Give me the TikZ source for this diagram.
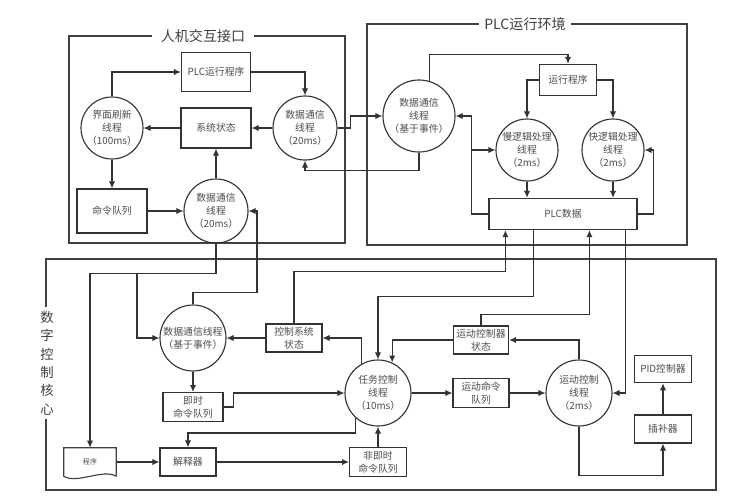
\documentclass[tikz,border=0pt]{standalone}
\usepackage{fontspec}
\setmainfont{Noto Sans CJK SC}
\usetikzlibrary{arrows.meta,positioning}

\begin{document}
\begin{tikzpicture}
[x=0.025cm, y=-0.025cm, font=\fontsize{7}{9.2}\selectfont,
% STYLES
every node/.style={text=black!70},
% The thread style is used to draw the periodic or event driven threads
thread/.style={circle, draw=black!80, line width=0.8pt, inner sep=0pt, minimum size=1.6cm, align=center},
% The store style is used to draw the data, states and queues
store/.style={rectangle, draw=black!80, line width=0.8pt, inner sep=1pt, minimum width=1.42cm, minimum height=0.72cm, align=center},
% The frame style is used to draw the three subsystems and their titles
frame/.style={draw=black!75, line width=0.8pt},
title/.style={fill=white, inner xsep=6pt, inner ysep=1pt, text=black!75, font=\fontsize{10}{12}\selectfont},
link/.style={color=black!80, line width=0.8pt, -{Latex[length=5pt,width=4.5pt]}}]

\useasboundingbox (0,0) rectangle (742,502);

% Draw the subsystems
\draw[frame] (69,36) rectangle (345,243);
\node[title] (hmititle) at (203,36) {人机交互接口};
\draw[frame] (367,24) rectangle (687,245);
\node[title, inner xsep=4pt] (plctitle) at (525,24) {PLC运行环境};
\draw[frame] (46,259) rectangle (716,490);
\node[title, align=center, inner xsep=1pt, inner ysep=3pt, font=\fontsize{9.5}{13.1}\selectfont] (nctitle) at (47,363) {数\\字\\控\\制\\核\\心};

% HMI
\node[thread, minimum size=1.55cm] (refresh) at (112,128) {界面刷新\\线程\\（100ms）};
\node[store, minimum width=1.73cm, minimum height=0.98cm] (plcprog) at (216,72) {PLC运行程序};
\node[store, minimum width=1.75cm, minimum height=1cm] (sysstate) at (216,128) {系统状态};
\node[thread] (hmicomA) at (305,128) {数据通信\\线程\\（20ms）};
\node[store, minimum width=1.75cm, minimum height=1.1cm] (cmdq) at (112,211) {命令队列};
\node[thread] (hmicomB) at (216,211) {数据通信\\线程\\（20ms）};

% PLC
\node[thread, minimum size=1.8cm] (plccom) at (419,116) {数据通信\\线程\\（基于事件）};
\node[store, minimum height=0.78cm] (runprog) at (568,80) {运行程序};
\node[thread, minimum size=1.55cm] (slow) at (527,150) {慢逻辑处理\\线程\\（2ms）};
\node[thread, minimum size=1.55cm] (fast) at (613,150) {快逻辑处理\\线程\\（2ms）};
\node[store, minimum width=3.7cm, minimum height=0.78cm] (plcdata) at (563,214) {PLC数据};

% NUMERICAL CONTROL CORE
\node[thread, minimum size=1.65cm] (nccom) at (193,338) {数据通信线程\\（基于事件）};
\node[store, minimum width=1.4cm, minimum height=0.7cm] (ctrlstate) at (294,338) {控制系统\\状态};
\node[store, minimum width=1.5cm] (nowq) at (193,407) {即时\\命令队列};
\node[minimum width=1.3cm, minimum height=0.7cm, inner sep=0pt, font=\fontsize{5}{6}\selectfont] (prog) at (90,462) {程序};
\node[store, minimum width=1.4cm, minimum height=0.7cm] (interp) at (188,462) {解释器};
\node[store] (laterq) at (378,462) {非即时\\命令队列};
\node[thread, minimum size=1.65cm] (taskctl) at (378,393) {任务控制\\线程\\（10ms）};
\node[store, minimum width=1.4cm] (motionq) at (481,393) {运动命令\\队列};
\node[thread, minimum size=1.65cm] (motionctl) at (579,393) {运动控制\\线程\\（2ms）};
\node[store, minimum width=1.38cm, minimum height=0.7cm] (motionstate) at (481,340) {运动控制器\\状态};
\node[store, minimum height=0.7cm] (interpol) at (663,429) {插补器};
\node[store, minimum height=0.68cm, above=0.78cm of interpol] (pid) {PID控制器};

% the program is a document
\draw[frame] (prog.south east) -- (prog.north east) -- (prog.north west) -- (prog.south west)
  .. controls +(13,8) and +(-13,-8) .. (prog.south east);

% Draw the links inside the HMI
\draw[link] (refresh.north) |- (plcprog.west);
\draw[link] (plcprog.east) -| (hmicomA.north);
\path[link]
(hmicomA.west) edge (sysstate.east)
(sysstate.west) edge (refresh.east)
(refresh.south) edge (cmdq.north)
(cmdq.east) edge (hmicomB.west)
(hmicomB.north) edge (sysstate.south);

% HMI <-> PLC
\draw[link] (hmicomA.east) -- ++(13,0) |- (plccom.west);
\draw[link] (plccom.south) -- ++(0,18) -| (hmicomA.south);

% Draw the links inside the PLC
\draw[link] (plccom.74) -- ++(0,-26) -| (runprog.north);
\draw[link] (runprog.west) -| (slow.north);
\draw[link] (runprog.east) -| (fast.north);
\path[link]
(slow.south) edge (slow.south |- plcdata.north)
(fast.south) edge (fast.south |- plcdata.north);
\path (plcdata.west) ++(-17,0) coordinate (plcbus);
\draw[link] (plcdata.west) -- (plcbus) |- (plccom.east);
\draw[link] (plcbus) |- (slow.west);
\draw[link] (plcdata.east) -- ++(16,0) |- (fast.east);

% PLC <-> NC
\path (plcdata.south west) ++(17,0) coordinate (plcA) ++(28,0) coordinate (plcB)
  ++(56,0) coordinate (plcC) ++(36,0) coordinate (plcD);
\draw[link] (ctrlstate.north) -- ++(0,-52) -| (plcA);
\draw[link] (plcB) -- ++(0,66) -| (taskctl.north);
\draw[link] (motionstate.north) -- ++(0,-11) -| (plcC);
\draw[link] (plcD) |- (motionctl.east);

% HMI <-> NC
\draw[link] (hmicomB.south) -- ++(0,30) -| (prog.north);
\coordinate (hmibranch) at (137,273);
\draw[link] (hmibranch) |- (nccom.west);
\draw[link] (nccom.north) |- ++(64,-12) |- (hmicomB.east);

% Draw the links inside the NC
\path[link]
(ctrlstate.west) edge (nccom.east)
(nccom.south) edge (nowq.north)
(prog.east) edge (interp.west)
(interp.east) edge (laterq.west)
(laterq.north) edge (taskctl.south)
(taskctl.east) edge (motionq.west)
(motionq.east) edge (motionctl.west)
(interpol.north) edge (pid.south);
\draw[link] (taskctl.120) |- (ctrlstate.east);
\draw[link] (motionstate.west) -| (taskctl.65);
\draw[link] (motionctl.north) |- (motionstate.east);
\draw[link] (nowq.east) -- ++(10,0) |- (taskctl.west);
\draw[link] (taskctl.228) -- ++(0,15) -| (interp.north);
\draw[link] (motionctl.south) -- ++(0,49) -| (interpol.south);

\end{tikzpicture}
\end{document}
